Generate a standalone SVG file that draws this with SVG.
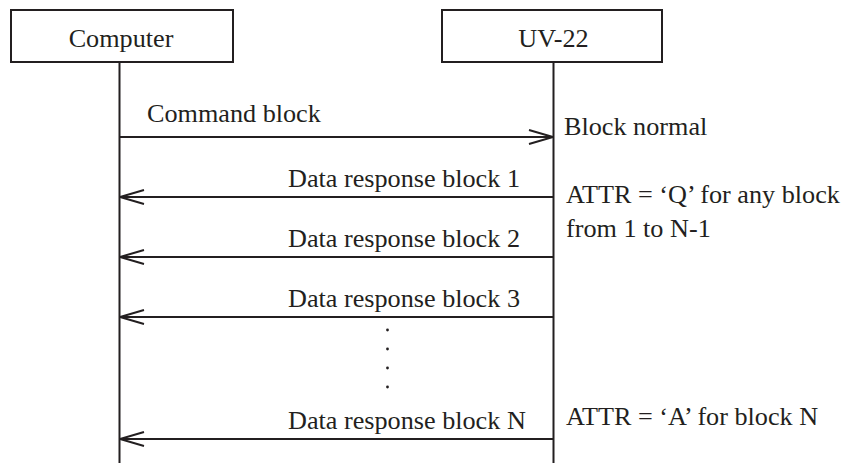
<svg xmlns="http://www.w3.org/2000/svg" width="851" height="463" viewBox="0 0 851 463">
<style>
text{font-family:'Liberation Serif', 'Times New Roman', Times, serif;font-size:26.2px;fill:#231f20}
.box{fill:#fff;stroke:#231f20;stroke-width:2}
.ln{stroke:#231f20;stroke-width:2;fill:none}
.dot{fill:#231f20}
</style>
<defs>
<marker id="ah" viewBox="0 0 26 16" refX="25" refY="8" markerWidth="26" markerHeight="16" markerUnits="userSpaceOnUse" orient="auto">
<path d="M1,1 L25,8 L1,15" fill="none" stroke="#231f20" stroke-width="2"/>
</marker>
</defs>
<g id="computer">
<rect class="box" x="11" y="10" width="222" height="52"/>
<text x="121" y="46.5" text-anchor="middle">Computer</text>
</g>
<g id="uv22">
<rect class="box" x="442" y="10" width="220" height="52"/>
<text x="553.5" y="46.5" text-anchor="middle">UV-22</text>
</g>
<g id="connectors">
<line class="ln" x1="119.5" y1="62" x2="119.5" y2="463"/>
<line class="ln" x1="553.5" y1="62" x2="553.5" y2="463"/>
<line class="ln" x1="119.5" y1="137" x2="553" y2="137" marker-end="url(#ah)"/>
<line class="ln" x1="553.5" y1="197" x2="120" y2="197" marker-end="url(#ah)"/>
<line class="ln" x1="553.5" y1="257" x2="120" y2="257" marker-end="url(#ah)"/>
<line class="ln" x1="553.5" y1="317" x2="120" y2="317" marker-end="url(#ah)"/>
<line class="ln" x1="553.5" y1="439" x2="120" y2="439" marker-end="url(#ah)"/>
</g>
<g id="labels">
<text x="147" y="121.5">Command block</text>
<text x="288" y="186.5">Data response block 1</text>
<text x="288" y="246.5">Data response block 2</text>
<text x="288" y="306.5">Data response block 3</text>
<text x="288" y="428.5">Data response block N</text>
<circle class="dot" cx="387.5" cy="330" r="1.4"/>
<circle class="dot" cx="387.5" cy="349" r="1.4"/>
<circle class="dot" cx="387.5" cy="368" r="1.4"/>
<circle class="dot" cx="387.5" cy="387" r="1.4"/>
<text x="564" y="135">Block normal</text>
<text x="566" y="203">ATTR = ‘Q’ for any block</text>
<text x="566" y="236.5">from 1 to N-1</text>
<text x="566" y="425">ATTR = ‘A’ for block N</text>
</g>
</svg>
